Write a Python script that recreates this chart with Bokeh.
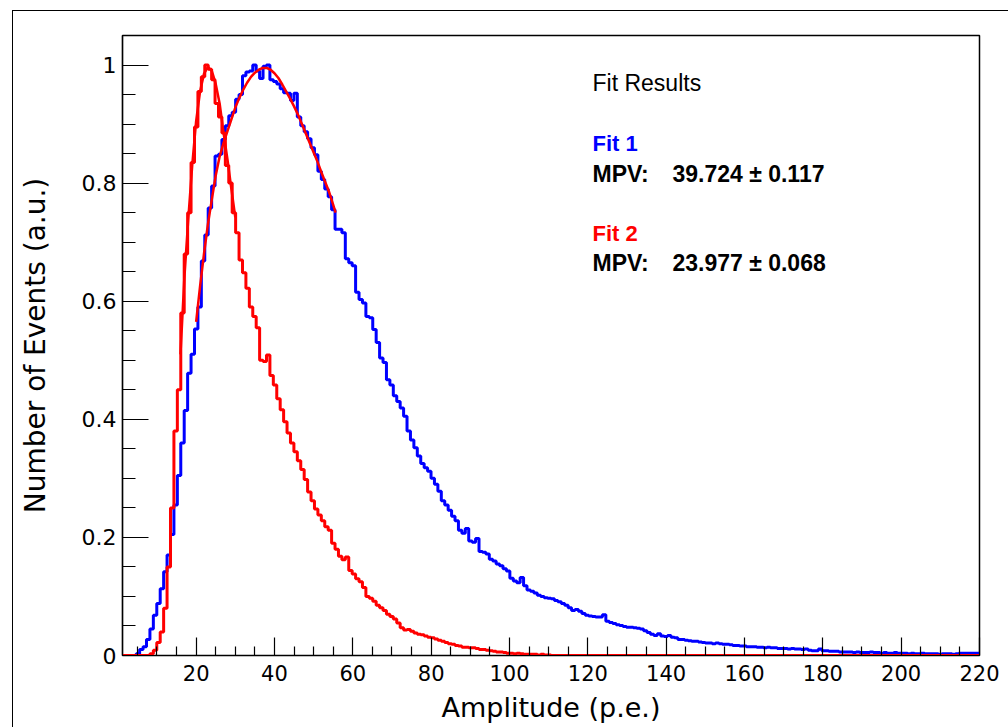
import numpy as np
from bokeh.plotting import figure
from bokeh.models import FixedTicker, Label, Range1d, InlineStyleSheet
from bokeh.embed import file_html
from bokeh.resources import INLINE

# ---------------- data ----------------
x_min = 1.2
x_max = 220.0
n_bins = 250

blue_values = [
    0, 0, 0, 0, 0.003, 0.010, 0.015, 0.027, 0.045, 0.068,
    0.088, 0.113, 0.142, 0.170, 0.205, 0.255, 0.305, 0.360, 0.415, 0.478,
    0.510, 0.553, 0.590, 0.668, 0.712, 0.758, 0.795, 0.846, 0.849, 0.874,
    0.897, 0.914, 0.920, 0.942, 0.950, 0.982, 0.988, 0.990, 1.000, 0.990,
    0.977, 0.998, 1.000, 0.975, 0.972, 0.968, 0.960, 0.953, 0.952, 0.940,
    0.952, 0.912, 0.897, 0.887, 0.875, 0.860, 0.848, 0.820, 0.806, 0.790,
    0.777, 0.755, 0.722, 0.722, 0.716, 0.672, 0.665, 0.660, 0.615, 0.603,
    0.597, 0.574, 0.572, 0.552, 0.530, 0.504, 0.496, 0.467, 0.458, 0.440,
    0.430, 0.419, 0.405, 0.380, 0.365, 0.352, 0.338, 0.325, 0.318, 0.312,
    0.300, 0.290, 0.278, 0.262, 0.255, 0.246, 0.236, 0.228, 0.212, 0.207,
    0.215, 0.194, 0.192, 0.198, 0.176, 0.175, 0.172, 0.163, 0.160, 0.155,
    0.152, 0.147, 0.143, 0.131, 0.126, 0.123, 0.132, 0.118, 0.111, 0.109,
    0.106, 0.102, 0.100, 0.098, 0.097, 0.096, 0.093, 0.091, 0.088, 0.085,
    0.081, 0.076, 0.078, 0.075, 0.071, 0.068, 0.067, 0.066, 0.065, 0.065,
    0.069, 0.058, 0.056, 0.054, 0.052, 0.051, 0.049, 0.048, 0.048, 0.047,
    0.046, 0.045, 0.042, 0.039, 0.036, 0.034, 0.037, 0.033, 0.032, 0.034,
    0.031, 0.030, 0.027, 0.027, 0.026, 0.025, 0.024, 0.024, 0.023, 0.022,
    0.021, 0.021, 0.020, 0.021, 0.020, 0.019, 0.019, 0.018, 0.017, 0.017,
    0.016, 0.016, 0.015, 0.015, 0.015, 0.014, 0.014, 0.013, 0.014, 0.013,
    0.013, 0.012, 0.012, 0.012, 0.011, 0.012, 0.011, 0.011, 0.010, 0.011,
    0.009, 0.008, 0.008, 0.011, 0.008, 0.008, 0.007, 0.007, 0.007, 0.006,
    0.006, 0.006, 0.006, 0.005, 0.006, 0.005, 0.005, 0.005, 0.006, 0.005,
    0.005, 0.004, 0.005, 0.004, 0.004, 0.005, 0.004, 0.004, 0.004, 0.003,
    0.004, 0.003, 0.003, 0.004, 0.003, 0.003, 0.003, 0.003, 0.002, 0.003,
    0.003, 0.003, 0.002, 0.003, 0.004, 0.004, 0.004, 0.004, 0.004, 0.004,
]

red_values = [
    0, 0, 0, 0, 0, 0, 0, 0, 0.003, 0.009,
    0.022, 0.040, 0.080, 0.150, 0.250, 0.380, 0.450, 0.580, 0.680, 0.750,
    0.835, 0.895, 0.955, 0.980, 1.000, 0.993, 0.975, 0.935, 0.912, 0.885,
    0.830, 0.800, 0.750, 0.716, 0.670, 0.648, 0.622, 0.590, 0.574, 0.555,
    0.500, 0.498, 0.509, 0.474, 0.458, 0.435, 0.416, 0.396, 0.377, 0.360,
    0.345, 0.330, 0.315, 0.298, 0.277, 0.262, 0.248, 0.238, 0.228, 0.218,
    0.212, 0.190, 0.180, 0.168, 0.162, 0.167, 0.144, 0.138, 0.130, 0.125,
    0.115, 0.100, 0.097, 0.092, 0.085, 0.081, 0.076, 0.070, 0.066, 0.062,
    0.055, 0.047, 0.043, 0.044, 0.041, 0.038, 0.036, 0.035, 0.033, 0.031,
    0.030, 0.028, 0.026, 0.024, 0.022, 0.020, 0.019, 0.017, 0.016, 0.014,
    0.014, 0.013, 0.013, 0.012, 0.010, 0.010, 0.009, 0.008, 0.007, 0.006,
    0.006, 0.005, 0.004, 0.004, 0.003, 0.004, 0.003, 0.002, 0.002, 0.002,
    0.002, 0.001, 0.002, 0.001, 0.001,
] + [0.0] * 125   # empty bins up to 220

fit1_x = [20, 21, 22, 23, 24, 25, 26, 27, 28, 29, 30, 31, 32, 33, 34, 35, 36, 37,
          38, 39, 40, 41, 42, 43, 44, 45, 46, 47, 48, 49, 50, 51, 52, 53, 54, 55, 55.6]
fit1_y = [0.565, 0.625, 0.680, 0.730, 0.772, 0.813, 0.845, 0.868, 0.888, 0.908,
          0.928, 0.944, 0.958, 0.970, 0.980, 0.987, 0.992, 0.995, 0.995, 0.992,
          0.986, 0.978, 0.967, 0.955, 0.943, 0.930, 0.916, 0.900, 0.884, 0.868,
          0.852, 0.836, 0.818, 0.801, 0.784, 0.763, 0.750]

fit2_x = [16, 17, 18, 19, 20, 21, 22, 23, 24, 25, 26, 27, 28, 29, 30]
fit2_y = [0.510, 0.640, 0.740, 0.830, 0.905, 0.955, 0.985, 0.997, 0.990, 0.968,
          0.935, 0.885, 0.840, 0.790, 0.742]

x_ticks = [20, 40, 60, 80, 100, 120, 140, 160, 180, 200, 220]
x_minor = [5, 10, 15, 25, 30, 35, 45, 50, 55, 65, 70, 75, 85, 90, 95, 105, 110, 115,
           125, 130, 135, 145, 150, 155, 165, 170, 175, 185, 190, 195, 205, 210, 215]
y_ticks = [0, 0.2, 0.4, 0.6, 0.8, 1.0]
y_tick_labels = ["0", "0.2", "0.4", "0.6", "0.8", "1"]
y_minor = [0.05, 0.1, 0.15, 0.25, 0.3, 0.35, 0.45, 0.5, 0.55, 0.65, 0.7, 0.75,
           0.85, 0.9, 0.95, 1.05]

fit1_mpv = "39.724 \u00b1 0.117"
fit2_mpv = "23.977 \u00b1 0.068"

# ---------------- figure ----------------
BLUE = "#0000ff"
RED = "#ff0000"

# outer canvas border (left and top edges; the others run past the window)
outer_css = InlineStyleSheet(css="""
:host::after {
  content: "";
  position: absolute;
  left: 12px;
  top: 10px;
  width: calc(100% - 12px);
  height: calc(100% - 10px);
  box-sizing: border-box;
  border-left: 1.5px solid #000;
  border-top: 1.5px solid #000;
  pointer-events: none;
}
""")

p = figure(width=1008, height=727, output_backend="svg", toolbar_location=None,
           x_range=Range1d(x_min, x_max), y_range=Range1d(0, 1.05),
           min_border_left=122, min_border_right=29, min_border_top=35,
           min_border_bottom=72)
p.stylesheets = [outer_css]
p.background_fill_color = "white"
p.border_fill_color = "white"
p.grid.visible = False
p.outline_line_color = "black"
p.outline_line_width = 1.5

edges = np.linspace(x_min, x_max, n_bins + 1)
blue_step = list(blue_values) + [blue_values[-1]]
red_step = list(red_values) + [red_values[-1]]

p.step(edges, blue_step, mode="after", line_color=BLUE, line_width=3)
p.step(edges, red_step, mode="after", line_color=RED, line_width=3)
p.line(fit1_x, fit1_y, line_color=RED, line_width=2.5)
p.line(fit2_x, fit2_y, line_color=RED, line_width=2.5)

# x axis
xa = p.xaxis[0]
xa.ticker = FixedTicker(ticks=x_ticks, minor_ticks=x_minor)
xa.major_tick_in = 18
xa.major_tick_out = 0
xa.minor_tick_in = 9
xa.minor_tick_out = 0
xa.axis_line_color = "black"
xa.axis_line_width = 1.2
xa.major_tick_line_width = 1.2
xa.minor_tick_line_width = 1.2
xa.major_label_text_font = "DejaVu Sans"
xa.major_label_text_font_size = "21px"
xa.major_label_text_color = "black"
xa.major_label_standoff = 9
xa.axis_label = "Amplitude (p.e.)"
xa.axis_label_text_font = "DejaVu Sans"
xa.axis_label_text_font_size = "27px"
xa.axis_label_text_font_style = "normal"
xa.axis_label_text_color = "black"
xa.axis_label_standoff = 8

# y axis
ya = p.yaxis[0]
ya.ticker = FixedTicker(ticks=y_ticks, minor_ticks=y_minor)
ya.major_label_overrides = {t: s for t, s in zip(y_ticks, y_tick_labels)}
ya.major_tick_in = 26
ya.major_tick_out = 0
ya.minor_tick_in = 13
ya.minor_tick_out = 0
ya.axis_line_color = "black"
ya.axis_line_width = 1.2
ya.major_tick_line_width = 1.2
ya.minor_tick_line_width = 1.2
ya.major_label_text_font = "DejaVu Sans"
ya.major_label_text_font_size = "22px"
ya.major_label_text_color = "black"
ya.major_label_standoff = 6
ya.axis_label = "Number of Events (a.u.)"
ya.axis_label_text_font = "DejaVu Sans"
ya.axis_label_text_font_size = "28px"
ya.axis_label_text_font_style = "normal"
ya.axis_label_text_color = "black"
ya.axis_label_standoff = 27

# fit results text
def add_label(x, y, text, size, color="black", bold=False):
    p.add_layout(Label(x=x, y=y, text=text, text_font="Liberation Sans",
                       text_font_size=size, text_color=color,
                       text_font_style="bold" if bold else "normal",
                       text_baseline="alphabetic", text_align="left"))

add_label(121.2, 0.970, "Fit Results", "23px")
add_label(121.2, 0.867, "Fit 1", "22px", BLUE, True)
add_label(121.2, 0.816, "MPV:", "23px", "black", True)
add_label(141.6, 0.816, fit1_mpv, "23px", "black", True)
add_label(121.2, 0.715, "Fit 2", "22px", RED, True)
add_label(121.2, 0.6655, "MPV:", "23px", "black", True)
add_label(141.6, 0.6655, fit2_mpv, "23px", "black", True)

open("out.html", "w").write(file_html(p, INLINE))
